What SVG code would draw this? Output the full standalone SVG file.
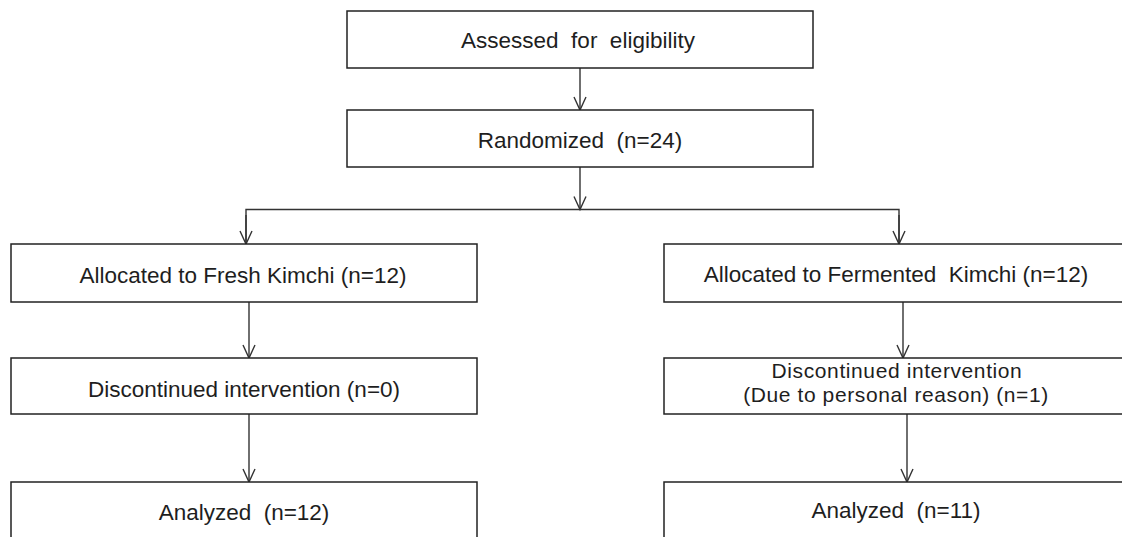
<svg xmlns="http://www.w3.org/2000/svg" width="1122" height="537" viewBox="0 0 1122 537">
<defs>
<marker id="arr" markerWidth="16" markerHeight="16" refX="14" refY="7" orient="auto" markerUnits="userSpaceOnUse">
<path d="M1,1 L14,7 L1,13" fill="none" stroke="#333" stroke-width="1.4"/>
</marker>
</defs>
<style>
.box{fill:#fff;stroke:#222;stroke-width:1.5}
.t{font-family:"Liberation Sans",Arial,sans-serif;font-size:22.5px;fill:#1e1e1e;text-anchor:middle}
.s{font-size:21px;letter-spacing:0.6px}
.c{fill:none;stroke:#333;stroke-width:1.4}
</style>
<rect width="1122" height="537" fill="#fff"/>
<g id="connectors">
<line class="c" x1="580" y1="68" x2="580" y2="110" marker-end="url(#arr)"/>
<line class="c" x1="580" y1="167" x2="580" y2="209.5" marker-end="url(#arr)"/>
<polyline class="c" points="246,244 246,209.5 899,209.5 899,244"/>
<line class="c" x1="246" y1="215" x2="246" y2="244" marker-end="url(#arr)"/>
<line class="c" x1="899" y1="215" x2="899" y2="244" marker-end="url(#arr)"/>
<line class="c" x1="249" y1="302" x2="249" y2="358" marker-end="url(#arr)"/>
<line class="c" x1="249" y1="414" x2="249" y2="482" marker-end="url(#arr)"/>
<line class="c" x1="903" y1="302" x2="903" y2="358" marker-end="url(#arr)"/>
<line class="c" x1="907" y1="414" x2="907" y2="482" marker-end="url(#arr)"/>
</g>
<g id="assessed">
<rect class="box" x="347" y="11" width="466" height="57"/>
<text class="t" x="578" y="48" xml:space="preserve">Assessed  for  eligibility</text>
</g>
<g id="randomized">
<rect class="box" x="347" y="110" width="466" height="57"/>
<text class="t" x="580" y="148" xml:space="preserve">Randomized  (n=24)</text>
</g>
<g id="fresh">
<rect class="box" x="11" y="244" width="466" height="58"/>
<text class="t" x="243" y="283">Allocated to Fresh Kimchi (n=12)</text>
</g>
<g id="fermented">
<rect class="box" x="664" y="244" width="470" height="58"/>
<text class="t" x="896" y="282" xml:space="preserve">Allocated to Fermented  Kimchi (n=12)</text>
</g>
<g id="disc-fresh">
<rect class="box" x="11" y="358" width="466" height="56"/>
<text class="t" x="244" y="397">Discontinued intervention (n=0)</text>
</g>
<g id="disc-fermented">
<rect class="box" x="664" y="358" width="470" height="56"/>
<text class="t s" x="897" y="378">Discontinued intervention</text>
<text class="t s" x="896" y="402">(Due to personal reason) (n=1)</text>
</g>
<g id="analyzed-fresh">
<rect class="box" x="11" y="482" width="466" height="80"/>
<text class="t" x="244" y="520" xml:space="preserve">Analyzed  (n=12)</text>
</g>
<g id="analyzed-fermented">
<rect class="box" x="664" y="482" width="470" height="80"/>
<text class="t" x="896" y="518" xml:space="preserve">Analyzed  (n=11)</text>
</g>
</svg>
